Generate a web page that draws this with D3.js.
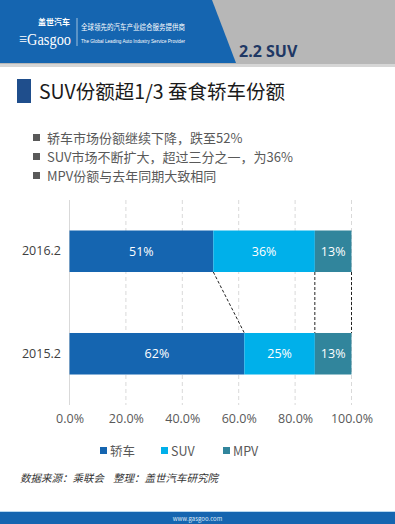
<!DOCTYPE html>
<meta charset="utf-8">
<head>
<script src="https://d3js.org/d3.v7.min.js"></script>
<style>
  body { margin: 0; background: #fff; }
  svg { display: block; font-family: "Noto Sans CJK SC", "Open Sans", sans-serif; }
</style>
</head>
<body>
<svg id="chart"></svg>
<script>
// data
var periods = ["2016.2", "2015.2"];
var segments = ["轿车", "SUV", "MPV"];
var sedanShare = [51, 62];
var suvShare = [36, 25];
var mpvShare = [13, 13];
var xTicks = [0, 20, 40, 60, 80, 100];
var bullets = ["轿车市场份额继续下降，跌至52%", "SUV市场不断扩大，超过三分之一，为36%", "MPV份额与去年同期大致相同"];

var W = 395, H = 524;
var svg = d3.select("#chart").attr("width", W).attr("height", H);

var colors = d3.scaleOrdinal().domain(segments).range(["#1565b0", "#00b0ea", "#31859c"]);

// header
svg.append("rect").attr("x", 0).attr("y", 0).attr("width", W).attr("height", 64).attr("fill", "#b7b7b7");
svg.append("rect").attr("x", 0).attr("y", 64).attr("width", W).attr("height", 3).attr("fill", "#d6d6d6");
svg.append("path").attr("d", "M0,0 L212,0 L236,63 L0,63 Z").attr("fill", "#1565b0");
var logo = svg.append("g").attr("fill", "#fff");
logo.append("text").attr("x", 19).attr("y", 45).attr("font-size", 17).attr("font-family", "Liberation Serif, serif")
  .attr("textLength", 52).attr("lengthAdjust", "spacingAndGlyphs").text("≡Gasgoo");
logo.append("text").attr("x", 38).attr("y", 25).attr("font-size", 8).attr("font-weight", "bold").text("盖世汽车");
svg.append("line").attr("x1", 77).attr("x2", 77).attr("y1", 18).attr("y2", 46).attr("stroke", "#fff").attr("stroke-width", 0.6);
logo.append("text").attr("x", 81).attr("y", 30).attr("font-size", 8)
  .attr("textLength", 104).attr("lengthAdjust", "spacingAndGlyphs").text("全球领先的汽车产业综合服务提供商");
logo.append("text").attr("x", 81).attr("y", 43).attr("font-size", 5.2).attr("font-family", "Liberation Sans Narrow, Liberation Sans, sans-serif")
  .attr("textLength", 104).attr("lengthAdjust", "spacingAndGlyphs").text("The Global Leading Auto Industry Service Provider");
svg.append("text").attr("x", 239).attr("y", 57).attr("font-size", 16).attr("font-weight", "bold")
  .attr("font-family", "Open Sans, sans-serif").attr("fill", "#1f3864").text("2.2  SUV");

// title
svg.append("rect").attr("x", 17).attr("y", 79).attr("width", 14).attr("height", 24).attr("fill", "#1f4e8c");
svg.append("text").attr("x", 39).attr("y", 99).attr("font-size", 19.5).attr("fill", "#1a1a1a").text("SUV份额超1/3 蚕食轿车份额");

// bullets
bullets.forEach(function(b, i) {
  var yy = 138 + i * 19;
  svg.append("rect").attr("x", 33).attr("y", yy - 4).attr("width", 7).attr("height", 7).attr("fill", "#595959");
  svg.append("text").attr("x", 47).attr("y", yy + 4.5).attr("font-size", 13).attr("fill", "#595959").text(b);
});

// chart
var x = d3.scaleLinear().domain([0, 100]).range([69.5, 351.5]);
var y = d3.scaleBand().domain(periods).range([200, 405]).paddingInner(0.595).paddingOuter(0.2975);

var rows = periods.map(function(p, i) {
  return { period: p, values: [sedanShare[i], suvShare[i], mpvShare[i]] };
});
var stacked = rows.map(function(r) {
  var acc = 0;
  return r.values.map(function(v, j) {
    var s = { period: r.period, seg: segments[j], v: v, x0: acc, x1: acc + v };
    acc += v;
    return s;
  });
});

// grid
svg.append("g").selectAll("line").data(xTicks).join("line")
  .attr("x1", d => x(d)).attr("x2", d => x(d))
  .attr("y1", 200).attr("y2", 405)
  .attr("stroke", "#d9d9d9").attr("stroke-width", 1)
  .attr("stroke-dasharray", d => d === 0 ? null : "4,3");

// x axis labels
var xAxis = svg.append("g").attr("transform", "translate(0,405)")
  .call(d3.axisBottom(x).tickValues(xTicks).tickSize(0).tickPadding(9).tickFormat(d => d.toFixed(1) + "%"));
xAxis.select(".domain").remove();
xAxis.selectAll("text").attr("font-size", 12.5).attr("fill", "#595959").attr("font-family", "Open Sans, sans-serif");

// y axis labels
var yAxis = svg.append("g").attr("transform", "translate(69,0)")
  .call(d3.axisLeft(y).tickSize(0).tickPadding(8));
yAxis.select(".domain").remove();
yAxis.selectAll("text").attr("font-size", 12.5).attr("fill", "#404040").attr("font-family", "Open Sans, sans-serif");

// bars
var cells = svg.append("g").selectAll("g").data(stacked.flat()).join("g");
cells.append("rect")
  .attr("x", d => x(d.x0)).attr("width", d => x(d.x1) - x(d.x0))
  .attr("y", d => y(d.period)).attr("height", y.bandwidth())
  .attr("fill", d => colors(d.seg));
cells.append("text")
  .attr("x", d => (x(d.x0) + x(d.x1)) / 2).attr("y", d => y(d.period) + y.bandwidth() / 2 + 4.5)
  .attr("text-anchor", "middle").attr("font-size", 12.5).attr("fill", "#fff")
  .attr("font-family", "Open Sans, sans-serif")
  .text(d => d.v + "%");

// connector lines between the two bars
var upper = stacked[0], lower = stacked[1];
svg.append("g").selectAll("line").data([0, 1, 2]).join("line")
  .attr("x1", j => x(upper[j].x1)).attr("y1", y(periods[0]) + y.bandwidth())
  .attr("x2", j => x(lower[j].x1)).attr("y2", y(periods[1]))
  .attr("stroke", "#222").attr("stroke-width", 1).attr("stroke-dasharray", "3,2");

// legend
var legendX = [100, 161, 223];
var lg = svg.append("g").selectAll("g").data(segments).join("g")
  .attr("transform", (d, i) => "translate(" + legendX[i] + ",451)");
lg.append("rect").attr("x", 0).attr("y", -4).attr("width", 7).attr("height", 7).attr("fill", d => colors(d));
lg.append("text").attr("x", 10).attr("y", 4.5).attr("font-size", 12.5).attr("fill", "#595959").text(d => d);

// source
var src = svg.append("g").attr("font-size", 10.5).attr("font-style", "italic").attr("fill", "#333");
src.append("text").attr("x", 20).attr("y", 482).text("数据来源：乘联会");
src.append("text").attr("x", 113).attr("y", 482).text("整理：盖世汽车研究院");

// footer
svg.append("rect").attr("x", 0).attr("y", 512).attr("width", W).attr("height", 12).attr("fill", "#1565b0");
svg.append("rect").attr("x", 0).attr("y", 511).attr("width", W).attr("height", 1).attr("fill", "#b8d8f0");
svg.append("text").attr("x", W / 2).attr("y", 521).attr("text-anchor", "middle").attr("font-size", 6)
  .attr("fill", "#dbe8f5").text("www.gasgoo.com");
</script>
</body>
</html>
